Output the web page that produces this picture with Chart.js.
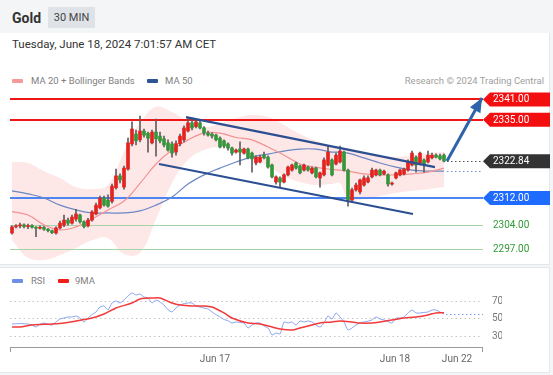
<!DOCTYPE html>
<html><head><meta charset="utf-8">
<script src="https://cdn.jsdelivr.net/npm/chart.js@4.4.1/dist/chart.umd.min.js"></script>
<style>
html,body{margin:0;padding:0;width:553px;height:375px;overflow:hidden;background:#f4f5f6;font-family:Roboto,"Liberation Sans",Arial,sans-serif;}
.abs{position:absolute;white-space:nowrap;}
#p1{position:absolute;left:0;top:33px;width:549px;height:231px;background:#fff;border-right:1px solid #e3e8ee;border-bottom:1px solid #e3e8ee;}
#p2{position:absolute;left:0;top:267px;width:549px;height:104px;background:#fff;border-top:1px solid #e3e8ee;border-right:1px solid #e3e8ee;border-bottom:1px solid #e3e8ee;}
canvas{position:absolute;left:0;top:0;}
.sw{position:absolute;height:4px;width:11px;border-radius:1px;}
</style></head>
<body>
<div id="p1"></div><div id="p2"></div>
<div class="abs" style="left:12px;top:10px;font-size:14px;line-height:16px;font-weight:bold;color:#333;">Gold</div>
<div class="abs" style="left:48px;top:7px;width:47px;height:21px;line-height:21px;background:#dfe3e8;color:#444;font-size:11px;text-align:center;">30 MIN</div>
<div class="abs" style="left:12px;top:37px;font-size:11.5px;line-height:14px;color:#333;">Tuesday, June 18, 2024 7:01:57 AM CET</div>
<div class="sw" style="left:12px;top:79px;background:#f49a9a;"></div>
<div class="abs" style="left:31px;top:75px;font-size:9.5px;line-height:12px;color:#808080;">MA 20 + Bollinger Bands</div>
<div class="sw" style="left:147px;top:79px;background:#2f5597;"></div>
<div class="abs" style="left:165px;top:75px;font-size:9.5px;line-height:12px;color:#808080;">MA 50</div>
<div class="abs" style="right:9px;top:75px;font-size:9.5px;line-height:12px;color:#a0a0a0;">Research © 2024 Trading Central</div>
<div class="sw" style="left:12px;top:279px;background:#6f8ee8;"></div>
<div class="abs" style="left:31px;top:275px;font-size:9.5px;line-height:12px;color:#808080;">RSI</div>
<div class="sw" style="left:58px;top:279px;background:#f21d1d;"></div>
<div class="abs" style="left:75px;top:275px;font-size:9.5px;line-height:12px;color:#808080;">9MA</div>
<canvas id="main" width="553" height="375"></canvas>
<canvas id="rsi" width="553" height="375"></canvas>
<script>
// ---- candles (30 min) ----
const open  = [2301.7,2303.5,2303.8,2304.1,2303.6,2303.9,2303.4,2303.1,2303.4,2302.8,2302.4,2301.7,2303.2,2304.0,2305.5,2304.6,2305.8,2307.0,2305.0,2303.8,2305.5,2307.3,2309.1,2312.0,2311.4,2311.0,2315.0,2318.5,2315.2,2320.5,2327.9,2330.8,2329.1,2331.7,2331.0,2328.2,2331.4,2330.2,2329.4,2328.2,2327.9,2325.5,2328.0,2329.1,2331.7,2334.1,2333.0,2334.1,2332.6,2331.1,2330.8,2330.5,2329.6,2328.8,2327.9,2326.7,2325.5,2326.4,2325.2,2326.4,2325.2,2322.3,2322.6,2324.6,2324.0,2321.7,2316.7,2317.9,2316.7,2318.8,2320.2,2322.3,2321.4,2320.2,2321.1,2319.4,2320.8,2317.9,2318.8,2321.7,2323.2,2322.0,2322.6,2325.5,2320.2,2311.4,2314.4,2313.8,2315.8,2316.7,2318.2,2318.8,2320.2,2319.1,2318.8,2316.1,2317.9,2318.8,2319.1,2320.2,2321.7,2324.0,2322.3,2323.2,2322.6,2323.8,2324.6,2324.4,2324.6];
const high  = [2303.8,2304.2,2304.6,2304.4,2304.3,2304.2,2303.6,2303.8,2303.7,2303.1,2302.6,2303.5,2305.2,2307.0,2306.1,2307.0,2308.7,2307.3,2305.3,2306.0,2308.3,2310.5,2312.6,2312.6,2312.9,2316.1,2320.5,2319.1,2321.4,2329.6,2334.4,2332.0,2336.1,2332.3,2331.4,2332.0,2335.2,2331.4,2330.2,2329.1,2328.5,2328.8,2330.8,2333.2,2335.5,2335.5,2334.9,2334.6,2333.0,2331.7,2331.2,2330.8,2330.0,2329.1,2328.2,2327.0,2326.4,2328.5,2326.7,2326.7,2325.5,2324.4,2324.6,2325.5,2324.4,2322.0,2318.5,2318.2,2319.1,2321.4,2322.0,2322.6,2321.7,2322.0,2321.4,2321.1,2321.1,2319.6,2323.8,2327.3,2323.5,2325.2,2327.3,2325.8,2320.5,2314.9,2316.4,2317.6,2318.5,2318.5,2320.8,2320.5,2320.5,2320.2,2319.1,2316.7,2319.6,2320.5,2320.8,2323.2,2325.8,2324.4,2325.5,2323.5,2325.8,2325.2,2325.0,2324.9,2325.0];
const low   = [2301.4,2303.2,2303.2,2303.2,2303.0,2303.1,2300.6,2302.8,2302.5,2302.0,2301.5,2301.4,2302.9,2303.6,2304.0,2304.3,2305.2,2304.6,2303.2,2303.5,2305.2,2307.0,2308.8,2309.6,2309.3,2310.5,2314.6,2316.4,2314.6,2320.2,2327.3,2327.6,2328.5,2329.9,2325.5,2327.9,2324.3,2328.2,2327.0,2325.8,2324.0,2324.6,2327.3,2328.5,2331.4,2332.0,2332.6,2332.3,2330.5,2330.2,2329.6,2328.8,2326.7,2326.7,2326.1,2324.6,2325.2,2321.7,2324.9,2323.5,2319.6,2321.7,2322.3,2323.5,2320.8,2317.9,2316.1,2315.2,2316.4,2318.5,2319.9,2320.5,2319.1,2319.9,2319.9,2319.1,2317.9,2315.2,2318.5,2321.4,2318.5,2321.7,2322.3,2319.9,2309.6,2310.8,2314.0,2313.2,2315.5,2316.4,2317.9,2318.5,2318.5,2318.8,2315.5,2315.8,2317.6,2318.5,2318.8,2319.9,2321.4,2319.6,2321.7,2319.6,2322.3,2323.5,2323.8,2323.2,2322.6];
const close = [2303.5,2303.8,2304.1,2303.6,2303.9,2303.4,2303.1,2303.4,2302.8,2302.4,2301.8,2303.2,2304.6,2305.5,2304.6,2306.4,2307.3,2305.0,2303.6,2305.5,2307.9,2309.9,2312.0,2309.9,2309.6,2315.5,2318.5,2317.3,2320.8,2328.2,2332.3,2328.8,2331.7,2330.5,2329.6,2331.4,2329.4,2328.8,2327.6,2326.1,2325.2,2328.0,2330.2,2332.6,2334.1,2332.6,2334.4,2332.6,2331.1,2330.5,2330.2,2329.1,2327.0,2327.3,2326.7,2325.2,2326.1,2325.5,2326.4,2323.8,2323.5,2324.0,2324.0,2323.8,2321.1,2318.2,2318.2,2316.7,2318.8,2321.1,2321.7,2320.8,2319.4,2321.7,2320.2,2320.8,2318.2,2319.4,2323.2,2325.5,2318.8,2324.6,2325.8,2320.2,2311.4,2314.4,2315.8,2317.3,2317.9,2317.9,2320.2,2320.2,2318.8,2319.9,2316.1,2316.4,2319.4,2320.2,2320.5,2322.6,2325.2,2321.7,2325.2,2321.7,2324.6,2324.6,2324.0,2323.5,2322.84];

// ---- indicator readings (sampled every 4 candles) ----
const maIdx   = [0,4,8,12,16,20,24,28,32,36,40,44,48,52,56,60,64,68,72,76,80,82,84,88,92,96,100,104,108];
const ma20    = [2308.0,2307.0,2304.1,2302.6,2303.5,2305.8,2308.5,2311.1,2316.3,2322.0,2326.1,2329.1,2331.1,2331.1,2329.8,2329.1,2327.0,2324.6,2322.0,2321.0,2320.4,2320.2,2319.9,2319.1,2318.8,2318.8,2319.1,2319.6,2320.8];
const ma50    = [2314.1,2313.2,2312.0,2309.9,2308.5,2307.6,2307.6,2307.6,2308.2,2309.9,2312.3,2316.1,2318.8,2320.8,2322.6,2324.1,2324.9,2325.8,2326.4,2326.4,2325.5,2325.5,2325.2,2323.8,2322.3,2321.1,2320.2,2319.9,2319.9];
const bbUpper = [2322.6,2322.3,2319.9,2317.9,2315.2,2314.6,2315.8,2325.5,2334.1,2338.8,2337.3,2334.6,2332.9,2333.8,2335.5,2336.4,2335.8,2333.5,2330.8,2328.8,2327.3,2327.0,2326.7,2325.5,2324.4,2324.1,2324.4,2325.2,2325.5];
const bbLower = [2299.6,2294.4,2293.8,2295.2,2297.3,2299.6,2300.2,2295.5,2295.8,2305.8,2316.4,2323.2,2326.1,2327.0,2325.8,2323.8,2321.4,2318.5,2316.7,2315.8,2316.1,2316.4,2311.7,2311.7,2312.6,2313.5,2314.1,2314.6,2315.2];

// ---- analyst levels & drawings ----
const resistances = [2341.00, 2335.00];
const pivot = 2312.00;
const supports = [2304.00, 2297.00];
const lastPrice = 2322.84;
const channelUpper = [[43.5,2335.8],[105.75,2321.1]];
const channelLower = [[36.75,2322.0],[100.25,2307.3]];
const arrowPath = [[108.75,2322.9],[117.5,2341.4]];

// ---- RSI panel ----
const rsi = [44.3,44.5,44.8,44.5,44.3,43.1,40.9,44.0,45.4,44.0,43.1,46.6,50.0,51.1,52.3,52.3,53.4,51.1,46.6,51.1,55.0,58.0,63.7,64.9,60.3,68.3,70.6,68.3,71.7,76.3,79.7,77.4,78.6,75.1,74.0,68.3,71.7,69.4,66.0,60.5,58.0,62.6,66.0,67.5,68.3,68.3,64.9,63.5,62.6,61.4,58.0,55.0,52.3,49.5,48.0,45.4,46.6,46.0,45.4,39.7,43.0,45.4,45.4,42.0,39.7,31.7,34.0,33.0,46.6,45.4,46.6,43.1,47.7,46.6,47.7,46.6,43.1,40.9,45.4,53.4,50.0,56.9,52.3,46.6,37.4,39.7,43.1,45.4,46.6,47.5,48.9,52.3,50.0,48.9,47.0,45.4,51.1,51.1,52.3,56.9,60.3,56.9,56.9,57.5,58.0,60.3,60.3,58.0,55.7];
const rsiMaIdx = [0,2,5,10,13,16,20,23,26,30,32,35,37,40,42,45,48,50,53,55,59,62,65,67,70,72,75,77,80,82,85,87,90,92,95,98,101,104,106,108];
const rsiMa    = [40.9,40.9,43.1,44.3,45.4,47.7,51.1,55.7,62.6,68.3,72.9,74.0,74.0,68.3,66.0,64.9,64.9,63.7,56.9,51.1,45.4,44.3,40.9,38.6,37.4,39.7,43.1,45.4,46.6,47.7,46.6,45.4,45.4,46.6,48.9,51.1,52.3,54.6,56.9,57.0];
const rsiLevels = [30, 50, 70];
const dateTickIdx = [50.75, 95.75, 111.25];
const dateTickLabels = ['Jun 17', 'Jun 18', 'Jun 22'];

Chart.defaults.font.family = 'Roboto';
const UP = '#e3231f', DOWN = '#35963a', WICK = '#5e5e5e';
const idx = open.map((_, i) => i);
const pts = (xs, ys) => xs.map((x, k) => ({x, y: ys[k]}));
const pairPts = arr => arr.map(p => ({x: p[0], y: p[1]}));

const mainPlugin = {
  id: 'mainExtra',
  beforeDatasetsDraw(chart) {
    const {ctx, chartArea: a, scales: {y}} = chart;
    const xr = a.right + 1;
    ctx.save();
    const hline = (p, color, w) => {
      const py = Math.round(y.getPixelForValue(p)) + (w % 2 ? 0.5 : 0);
      ctx.strokeStyle = color; ctx.lineWidth = w;
      ctx.beginPath(); ctx.moveTo(a.left, py); ctx.lineTo(xr, py); ctx.stroke();
    };
    supports.forEach(p => hline(p, '#a6d4a6', 1));
    hline(pivot, '#4d86f2', 2);
    resistances.forEach(p => hline(p, '#f01616', 2));
    ctx.restore();
  },
  afterDatasetsDraw(chart) {
    const {ctx, chartArea: a, scales: {x, y}} = chart;
    ctx.save();
    // arrow head
    const x0 = x.getPixelForValue(arrowPath[0][0]), y0 = y.getPixelForValue(arrowPath[0][1]);
    const x1 = x.getPixelForValue(arrowPath[1][0]), y1 = y.getPixelForValue(arrowPath[1][1]);
    const ang = Math.atan2(y1 - y0, x1 - x0), L = 14, W = 6;
    const bx = x1 - L * Math.cos(ang), by = y1 - L * Math.sin(ang);
    ctx.fillStyle = '#2e63a9';
    ctx.beginPath(); ctx.moveTo(x1, y1);
    ctx.lineTo(bx + W * Math.sin(ang), by - W * Math.cos(ang));
    ctx.lineTo(bx - W * Math.sin(ang), by + W * Math.cos(ang));
    ctx.closePath(); ctx.fill();
    // dotted extensions
    const lx = x.getPixelForValue(idx.length - 1) + 3;
    const dl = (p, color) => {
      const py = Math.round(y.getPixelForValue(p)) + 0.5;
      ctx.strokeStyle = color; ctx.lineWidth = 1; ctx.setLineDash([1.5, 2.5]);
      ctx.beginPath(); ctx.moveTo(lx, py); ctx.lineTo(a.right + 1, py); ctx.stroke();
    };
    dl(lastPrice, '#555');
    dl(ma50[ma50.length - 1], '#6d8fd6');
    ctx.restore();
  },
  afterDraw(chart) {
    const {ctx, chartArea: a, scales: {y}} = chart;
    ctx.save();
    const X0 = a.right + 1, X1 = 550, H = 14, N = 7;
    ctx.font = '10px Roboto'; ctx.textBaseline = 'middle'; ctx.textAlign = 'left';
    const tag = (p, bg) => {
      const py = y.getPixelForValue(p);
      ctx.fillStyle = bg;
      ctx.beginPath(); ctx.moveTo(X0, py); ctx.lineTo(X0 + N, py - H / 2); ctx.lineTo(X1, py - H / 2);
      ctx.lineTo(X1, py + H / 2); ctx.lineTo(X0 + N, py + H / 2); ctx.closePath(); ctx.fill();
      ctx.fillStyle = '#fff'; ctx.fillText(p.toFixed(2), X0 + 10, py + 0.5);
    };
    resistances.forEach(p => tag(p, '#f30f0f'));
    tag(lastPrice, '#333333');
    tag(pivot, '#1f6bff');
    supports.forEach(p => { ctx.fillStyle = '#2f9a35'; ctx.fillText(p.toFixed(2), X0 + 10, y.getPixelForValue(p) + 0.5); });
    ctx.restore();
  }
};

new Chart(document.getElementById('main'), {
  type: 'bar',
  data: { datasets: [
    {type: 'line', label: 'BB upper', data: pts(maIdx, bbUpper), borderWidth: 0, pointRadius: 0, fill: '+1', backgroundColor: 'rgba(250,110,110,0.17)', tension: 0.4, order: 20},
    {type: 'line', label: 'BB lower', data: pts(maIdx, bbLower), borderWidth: 0, pointRadius: 0, fill: false, tension: 0.4, order: 19},
    {type: 'line', label: 'MA 50', data: pts(maIdx, ma50), borderColor: '#6b87c4', borderWidth: 1.2, pointRadius: 0, tension: 0.4, order: 15},
    {type: 'line', label: 'MA 20', data: pts(maIdx, ma20), borderColor: '#f39393', borderWidth: 1.2, pointRadius: 0, tension: 0.4, order: 14},
    {label: 'wick', data: idx.map(i => ({x: i, y: [low[i], high[i]]})), backgroundColor: WICK, barThickness: 1, grouped: false, order: 5},
    {label: 'body', data: idx.map(i => ({x: i, y: [open[i], close[i]]})), backgroundColor: idx.map(i => close[i] >= open[i] ? UP : DOWN), barThickness: 3, grouped: false, minBarLength: 1, order: 4},
    {type: 'line', label: 'channel up', data: pairPts(channelUpper), borderColor: '#2b4f91', borderWidth: 2.2, pointRadius: 0, order: 2},
    {type: 'line', label: 'channel low', data: pairPts(channelLower), borderColor: '#2b4f91', borderWidth: 2.2, pointRadius: 0, order: 2},
    {type: 'line', label: 'arrow', data: pairPts(arrowPath), borderColor: '#2e63a9', borderWidth: 3, pointRadius: 0, clip: false, order: 1}
  ]},
  options: {
    responsive: false, animation: false, events: [],
    layout: {padding: {left: 10, right: 71, top: 88, bottom: 113}},
    scales: {
      x: {type: 'linear', min: -0.5, max: 117.5, offset: false, display: false},
      y: {min: 2293.18, max: 2344.35, display: false}
    },
    plugins: {legend: {display: false}, tooltip: {enabled: false}, filler: {drawTime: 'beforeDatasetsDraw'}}
  },
  plugins: [mainPlugin]
});

const rsiPlugin = {
  id: 'rsiExtra',
  afterDatasetsDraw(chart) {
    const {ctx, chartArea: a, scales: {x, y}} = chart;
    ctx.save();
    const lx = x.getPixelForValue(rsi.length - 1) + 2;
    const ly = Math.round(y.getPixelForValue(rsi[rsi.length - 1])) + 0.5;
    ctx.strokeStyle = '#7f9cee'; ctx.lineWidth = 1; ctx.setLineDash([1.5, 2.5]);
    ctx.beginPath(); ctx.moveTo(lx, ly); ctx.lineTo(a.right + 1, ly); ctx.stroke();
    ctx.setLineDash([]); ctx.strokeStyle = '#9a9a9a';
    [a.left, a.right].forEach(px => {
      const xx = Math.round(px) + 0.5;
      ctx.beginPath(); ctx.moveTo(xx, a.bottom); ctx.lineTo(xx, a.bottom + 5); ctx.stroke();
    });
    ctx.restore();
  }
};

new Chart(document.getElementById('rsi'), {
  type: 'line',
  data: { datasets: [
    {label: '9MA', data: pts(rsiMaIdx, rsiMa), borderColor: '#f23a3a', borderWidth: 1.5, pointRadius: 0, tension: 0.3},
    {label: 'RSI', data: pts(idx, rsi), borderColor: '#8aa5ef', borderWidth: 1, pointRadius: 0, tension: 0.2}
  ]},
  options: {
    responsive: false, animation: false, events: [],
    layout: {padding: {left: 10, right: 51, top: 290, bottom: 3}},
    scales: {
      x: {type: 'linear', min: -0.5, max: 117.5, offset: false,
          grid: {display: false, drawTicks: false}, border: {display: true, color: '#9a9a9a', width: 1},
          afterBuildTicks: s => { s.ticks = dateTickIdx.map(v => ({value: v})); },
          afterFit: s => { s.height = 25; },
          ticks: {autoSkip: false, maxRotation: 0, padding: 6, color: '#666', font: {size: 10}, callback: (v, i) => dateTickLabels[i]}},
      y: {position: 'right', min: 18, max: 83.14,
          grid: {color: '#c4c4c4', drawTicks: false, lineWidth: 1}, border: {display: false, dash: [1.5, 3]},
          afterBuildTicks: s => { s.ticks = rsiLevels.map(v => ({value: v})); },
          afterFit: s => { s.width = 20; },
          ticks: {padding: 10, color: '#777', font: {size: 10}}}
    },
    plugins: {legend: {display: false}, tooltip: {enabled: false}}
  },
  plugins: [rsiPlugin]
});
</script>
</body></html>
